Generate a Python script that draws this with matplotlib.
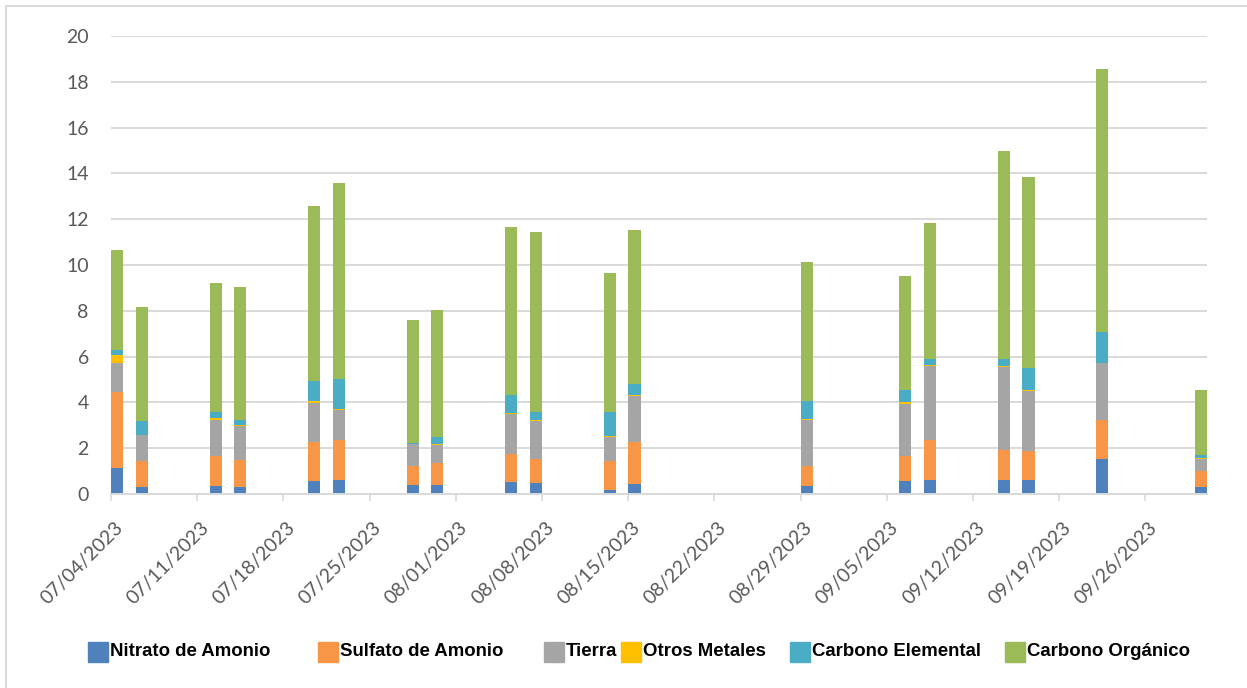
import numpy as np
import matplotlib
matplotlib.use("Agg")
import matplotlib.pyplot as plt
import matplotlib.dates as mdates
import matplotlib.transforms as mtransforms
from matplotlib.patches import Rectangle
from matplotlib.lines import Line2D
import datetime as dt

fechas = ["2023-07-04", "2023-07-06", "2023-07-12", "2023-07-14", "2023-07-20",
          "2023-07-22", "2023-07-28", "2023-07-30", "2023-08-05", "2023-08-07",
          "2023-08-13", "2023-08-15", "2023-08-29", "2023-09-06", "2023-09-08",
          "2023-09-14", "2023-09-16", "2023-09-22", "2023-09-30"]

nitrato = [1.12, 0.31, 0.35, 0.29, 0.55, 0.60, 0.41, 0.41, 0.51, 0.48,
           0.19, 0.42, 0.35, 0.55, 0.63, 0.60, 0.60, 1.55, 0.32]
sulfato = [3.33, 1.12, 1.31, 1.19, 1.71, 1.74, 0.81, 0.93, 1.22, 1.05,
           1.26, 1.85, 0.86, 1.11, 1.73, 1.32, 1.28, 1.70, 0.70]
tierra = [1.28, 1.13, 1.59, 1.49, 1.73, 1.31, 0.96, 0.80, 1.76, 1.66,
          1.04, 2.02, 2.02, 2.29, 3.21, 3.63, 2.60, 2.45, 0.53]
otros = [0.33, 0.03, 0.05, 0.03, 0.06, 0.05, 0.02, 0.03, 0.04, 0.04,
         0.04, 0.04, 0.03, 0.06, 0.06, 0.06, 0.04, 0.04, 0.02]
elemental = [0.23, 0.58, 0.28, 0.23, 0.87, 1.34, 0.03, 0.33, 0.78, 0.36,
             1.03, 0.48, 0.78, 0.51, 0.27, 0.29, 1.00, 1.33, 0.13]
organico = [4.38, 4.99, 5.63, 5.81, 7.66, 8.54, 5.38, 5.53, 7.37, 7.87,
            6.11, 6.72, 6.10, 4.98, 5.94, 9.07, 8.33, 11.50, 2.84]

series = [("Nitrato de Amonio", nitrato, "#4F81BD"),
          ("Sulfato de Amonio", sulfato, "#F79646"),
          ("Tierra", tierra, "#A5A5A5"),
          ("Otros Metales", otros, "#FFC000"),
          ("Carbono Elemental", elemental, "#4BACC6"),
          ("Carbono Orgánico", organico, "#9BBB59")]

x_start = dt.date(2023, 7, 4)
x_end = dt.date(2023, 10, 1)

fig = plt.figure(figsize=(12.47, 6.88), dpi=100)
ax = fig.add_axes([111/1247, 1-494/688, (1207-111)/1247, (494-36)/688])

x = mdates.date2num([dt.date.fromisoformat(f) for f in fechas]) + 0.5
bottom = np.zeros(len(x))
for name, vals, col in series:
    ax.bar(x, vals, width=1.0, bottom=bottom, color=col, label=name, zorder=3)
    bottom += np.array(vals)

ax.set_xlim(mdates.date2num(x_start), mdates.date2num(x_end))
ax.set_ylim(0, 20)
ax.set_yticks(np.arange(0, 21, 2))
ax.grid(axis="y", color="#D9D9D9", linewidth=1.4, zorder=0)

ticks = [x_start + dt.timedelta(days=7*i) for i in range(13)]
ax.set_xticks(mdates.date2num(ticks))
ax.set_xticklabels([t.strftime("%m/%d/%Y") for t in ticks], rotation=45,
                   ha="right", rotation_mode="anchor")

for s in ["left", "right", "top"]:
    ax.spines[s].set_visible(False)
ax.spines["bottom"].set_color("#D9D9D9")
ax.spines["bottom"].set_linewidth(1.4)
ax.spines["bottom"].set_zorder(4)

ax.tick_params(axis="y", length=0, pad=16, labelsize=14, labelcolor="#595959")
ax.tick_params(axis="x", length=5, width=1.2, color="#D9D9D9", pad=4,
               labelsize=14, labelcolor="#595959")
shift = mtransforms.ScaledTranslation(0.03, -0.12, fig.dpi_scale_trans)
for lab in ax.get_xticklabels():
    lab.set_fontfamily("Lato")
    lab.set_transform(lab.get_transform() + shift)
for lab in ax.get_yticklabels():
    lab.set_fontfamily("Lato")

# legend drawn by hand to keep Excel's uneven spacing
leg_x = [88, 318, 544, 621, 790, 1005]
for (name, vals, col), lx in zip(series, leg_x):
    fig.patches.append(Rectangle((lx/1247, 1-662/688), 20/1247, 20/688,
                                 transform=fig.transFigure, color=col))
    fig.text((lx+22)/1247, 1-652/688, name, fontsize=13.4, fontweight="bold",
             family="Liberation Sans", va="center", ha="left", color="black")

# chart area border (left and top only visible)
fig.add_artist(Line2D([6/1247, 6/1247], [0, 1-6/688], transform=fig.transFigure,
                      color="#D9D9D9", linewidth=1.4))
fig.add_artist(Line2D([6/1247, 1], [1-6/688, 1-6/688], transform=fig.transFigure,
                      color="#D9D9D9", linewidth=1.4))

fig.savefig("out.png", dpi=100)
